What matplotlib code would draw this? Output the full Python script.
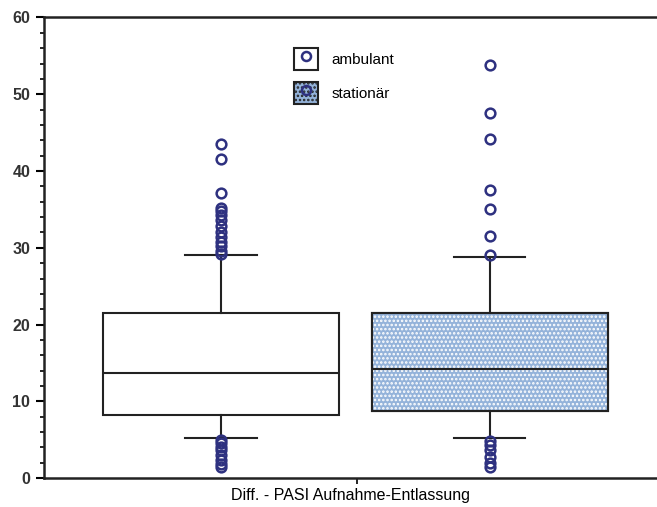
import numpy as np
import matplotlib.pyplot as plt
from matplotlib.patches import PathPatch, Patch
from matplotlib.lines import Line2D
from matplotlib.ticker import MultipleLocator

plt.rcParams["font.family"] = ["Liberation Sans", "DejaVu Sans"]
plt.rcParams["hatch.linewidth"] = 1.2

# Box statistics
groups = ["ambulant", "stationär"]
medians = [13.7, 14.2]
q1s = [8.2, 8.7]
q3s = [21.5, 21.5]
whis_lo = [5.2, 5.2]
whis_hi = [29.1, 28.8]
fliers_amb = [43.5, 41.6, 37.1, 35.2, 34.8, 34.3, 33.6, 32.8, 32.0, 31.4, 30.8,
              30.2, 29.6, 29.2, 5.0, 4.6, 4.1, 3.6, 3.0, 2.4, 1.9, 1.5]
fliers_stat = [53.8, 47.6, 44.2, 37.5, 35.0, 31.5, 29.0, 4.8, 4.3, 3.6, 2.8,
               2.0, 1.4]
xlabel = "Diff. - PASI Aufnahme-Entlassung"

navy = "#2e3180"
fill_blue = "#94b3da"
dark = "#222222"

stats = []
for i, fl in enumerate([fliers_amb, fliers_stat]):
    stats.append(dict(med=medians[i], q1=q1s[i], q3=q3s[i],
                      whislo=whis_lo[i], whishi=whis_hi[i], fliers=fl,
                      label=groups[i]))

fig = plt.figure(figsize=(6.57, 5.07), dpi=100)
ax = fig.add_axes([0.067, 0.057, 0.933, 0.9085])

bp = ax.bxp(stats, positions=[1, 2], widths=0.874, capwidths=0.264,
            patch_artist=True, showfliers=True,
            boxprops=dict(linewidth=1.5, edgecolor=dark),
            medianprops=dict(color=dark, linewidth=1.5),
            whiskerprops=dict(color=dark, linewidth=1.5),
            capprops=dict(color=dark, linewidth=1.5),
            flierprops=dict(marker="o", markersize=7, markerfacecolor="none",
                            markeredgecolor=navy, markeredgewidth=1.8))

bp["boxes"][0].set_facecolor("white")
box2 = bp["boxes"][1]
box2.set_facecolor(fill_blue)
# white dotted texture over the stationary box
dots = PathPatch(box2.get_path(), transform=box2.get_transform(),
                 facecolor="none", edgecolor="white", linewidth=0,
                 hatch="....", zorder=box2.get_zorder() + 0.01)
ax.add_patch(dots)
outline = PathPatch(box2.get_path(), transform=box2.get_transform(),
                    facecolor="none", edgecolor=dark, linewidth=1.5,
                    zorder=box2.get_zorder() + 0.02)
ax.add_patch(outline)
for ln in bp["medians"]:
    ln.set_zorder(3)

ax.set_xlim(0.342, 2.621)
ax.set_ylim(0, 60)
ax.set_xticks([1.506])
ax.tick_params(axis="x", length=4, width=1.2, direction="out",
               labelbottom=False)
ax.set_xlabel(xlabel, fontsize=11.5, labelpad=3)

ax.yaxis.set_major_locator(MultipleLocator(10))
ax.yaxis.set_minor_locator(MultipleLocator(2))
ax.tick_params(axis="y", which="major", length=6, width=1.5, labelsize=11.5,
               pad=4)
ax.tick_params(axis="y", which="minor", length=3, width=1.2)
for lbl in ax.get_yticklabels():
    lbl.set_fontweight("bold")
    lbl.set_color("#333333")

ax.spines["right"].set_visible(False)
for s in ["left", "top", "bottom"]:
    ax.spines[s].set_linewidth(1.8)
    ax.spines[s].set_color(dark)

# Legend
marker = dict(marker="o", linestyle="none", markersize=6.5,
              markerfacecolor="none", markeredgecolor=navy,
              markeredgewidth=1.8)
h_amb = (Patch(facecolor="white", edgecolor=dark, linewidth=1.5),
         Line2D([], [], **marker))
h_stat = (Patch(facecolor=fill_blue, edgecolor=dark, linewidth=1.5,
                hatch="...."),
          Line2D([], [], **marker))
leg = ax.legend([h_amb, h_stat], groups, loc="upper left",
                bbox_to_anchor=(0.408, 0.933), frameon=False, fontsize=11,
                handlelength=1.57, handleheight=1.85, labelspacing=0.75,
                handletextpad=0.9, borderpad=0, borderaxespad=0)

fig.savefig("out.png", dpi=100)
